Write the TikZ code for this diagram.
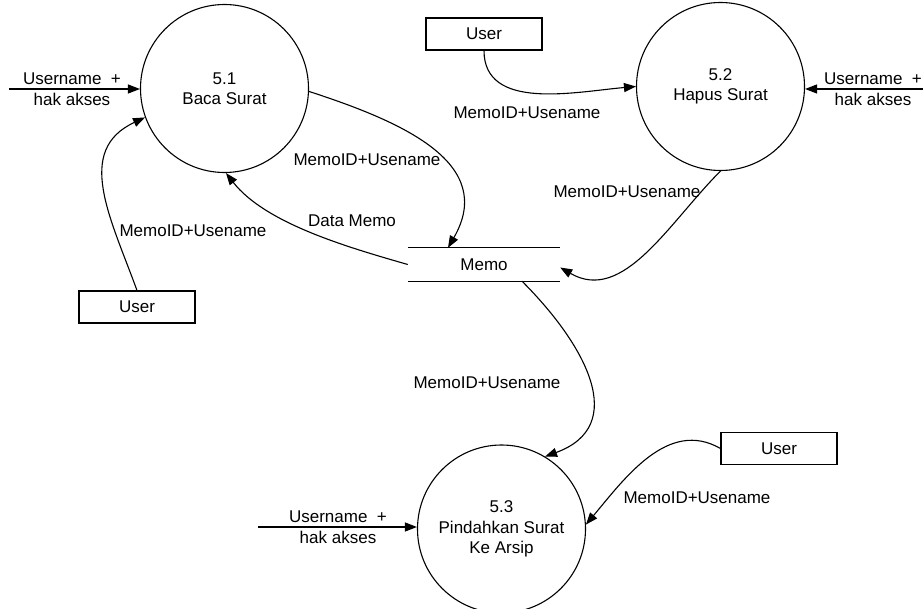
\documentclass[tikz,border=0pt]{standalone}
\usepackage{fontspec}
\setmainfont{Liberation Sans}
\usetikzlibrary{arrows.meta}
\begin{document}
\begin{tikzpicture}[x=1pt,y=1pt,
  every node/.style={font=\fontsize{17}{20.5}\selectfont},
  proc/.style={circle,draw,line width=1.1pt,minimum size=168pt,inner sep=0pt,align=center},
  ent/.style={draw,line width=1.1pt,minimum width=116pt,minimum height=32pt,inner sep=0pt},
  lbl/.style={inner sep=1pt,align=center},
  flow/.style={line width=1.1pt,-{Triangle[length=12pt,width=9pt]}},
  storeline/.style={line width=1.1pt}
]
\useasboundingbox (0,0) rectangle (923,-609);

% processes
\node[proc] (c51) at (224.5,-88.5) {5.1\\Baca Surat};
\node[proc] (c52) at (720.5,-86.5) {5.2\\Hapus Surat};
\node[proc] (c53) at (501.5,-529) {5.3\\Pindahkan Surat\\Ke Arsip};

% entities
\node[ent] (u1) at (137,-307) {User};
\node[ent] (u2) at (484,-34) {User};
\node[ent] (u3) at (779,-448.5) {User};

% data store
\node[minimum width=152pt,minimum height=33pt,inner sep=0pt] (memo) at (484,-264.5) {Memo};
\draw[storeline] (memo.north west) -- (memo.north east)
                 (memo.south west) -- (memo.south east);

% external inputs
\coordinate (in1) at (9,-89);
\coordinate (in2) at (923,-89);
\coordinate (in3) at (258,-527);
\draw[flow] (in1) -- (in1 -| c51.west);
\draw[flow] (in2) -- (in2 -| c52.east);
\draw[flow] (in3) -- (in3 -| c53.west);
\node[lbl] at (72,-89) {Username\ \ +\\hak akses};
\node[lbl] at (873,-89) {Username\ \ +\\hak akses};
\node[lbl] at (338,-527) {Username\ \ +\\hak akses};

% flows
\draw[flow] (u1.north) to[out=110,in=205,looseness=1.15] (c51.200);
\node[lbl] at (193,-231) {MemoID+Usename};

\draw[flow] (c51.-2) to[out=-18,in=60,looseness=1.2] ([xshift=-36pt]memo.north);
\node[lbl] at (367,-160) {MemoID+Usename};

\draw[flow] (memo.west) to[out=164,in=-52,looseness=0.8] (c51.-89);
\node[lbl] at (352,-221) {Data Memo};

\draw[flow] (u2.south) to[out=-90,in=185] (c52.west);
\node[lbl] at (527,-113) {MemoID+Usename};

\draw[flow] (c52.-90) to[out=225,in=-30] ([yshift=-3pt]memo.east);
\node[lbl] at (627,-192) {MemoID+Usename};

\draw[flow] ([xshift=38pt]memo.south) to[out=-45,in=20,looseness=1.3] (c53.59);
\node[lbl] at (487,-383) {MemoID+Usename};

\draw[flow] (u3.west) to[out=150,in=50] (c53.3);
\node[lbl] at (697,-498) {MemoID+Usename};
\end{tikzpicture}
\end{document}
